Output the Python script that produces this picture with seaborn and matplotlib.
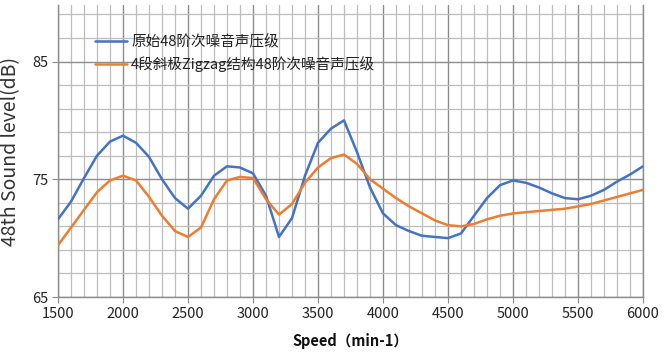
import numpy as np
import pandas as pd
import matplotlib
matplotlib.use("Agg")
import matplotlib.pyplot as plt
from matplotlib.ticker import MultipleLocator, FixedLocator
import seaborn as sns

# speed in min-1, 100 step
speed = list(range(1500, 6001, 100))

# original 48th order sound level
original = [71.6, 73.1, 75.1, 77.0, 78.2, 78.7, 78.1, 76.9, 75.0, 73.4,
            72.5, 73.6, 75.3, 76.1, 76.0, 75.5, 73.6, 70.1, 71.7, 75.3,
            78.1, 79.3, 80.0, 77.3, 74.3, 72.1, 71.1, 70.6, 70.2, 70.1,
            70.0, 70.4, 71.9, 73.4, 74.5, 74.9, 74.7, 74.3, 73.8, 73.4,
            73.3, 73.6, 74.1, 74.8, 75.4, 76.1]

# 4-segment skewed Zigzag structure
zigzag = [69.4, 70.9, 72.4, 73.9, 74.9, 75.3, 74.9, 73.5, 71.9, 70.6,
          70.1, 70.9, 73.3, 74.9, 75.2, 75.1, 73.3, 72.0, 72.9, 74.7,
          76.0, 76.8, 77.1, 76.3, 75.0, 74.2, 73.4, 72.7, 72.1, 71.5,
          71.1, 71.0, 71.2, 71.6, 71.9, 72.1, 72.2, 72.3, 72.4, 72.5,
          72.7, 72.9, 73.2, 73.5, 73.8, 74.1]

series_names = ["原始48阶次噪音声压级", "4段斜极Zigzag结构48阶次噪音声压级"]
series_colors = ["#4472C4", "#ED7D31"]

df = pd.DataFrame({
    "speed": speed * 2,
    "level": original + zigzag,
    "series": [series_names[0]] * len(speed) + [series_names[1]] * len(speed),
})

sns.set_theme(style="white")
plt.rcParams["font.family"] = ["Noto Sans CJK SC", "DejaVu Sans"]

fig = plt.figure(figsize=(6.64, 3.56), dpi=100)
ax = fig.add_axes([58 / 664, 59 / 356, 585 / 664, 292 / 356])

sns.lineplot(data=df, x="speed", y="level", hue="series",
             palette=dict(zip(series_names, series_colors)),
             linewidth=1.8, ax=ax, zorder=3)

ax.set_xlim(1500, 6000)
ax.set_ylim(65, 89.8)
ax.xaxis.set_major_locator(MultipleLocator(500))
ax.xaxis.set_minor_locator(MultipleLocator(100))
ax.yaxis.set_major_locator(FixedLocator([65, 75, 85]))
ax.yaxis.set_minor_locator(FixedLocator(np.arange(65, 90, 2)))

ax.grid(which="major", color="#8c8c8c", linewidth=1.0)
ax.grid(which="minor", color="#bdbdbd", linewidth=0.9)
ax.set_axisbelow(True)

ax.tick_params(which="major", direction="out", length=4, width=0.8,
               color="#8c8c8c", labelsize=10.5, labelcolor="#222222", pad=3,
               left=True, bottom=True)
ax.tick_params(which="minor", length=0)

ax.spines["top"].set_visible(False)
for side in ["left", "bottom", "right"]:
    ax.spines[side].set_color("#8c8c8c")
    ax.spines[side].set_linewidth(1.0)

ax.set_xlabel("Speed（min-1）", fontsize=10.5, fontweight="bold",
              color="#111111", labelpad=9)
ax.set_ylabel("48th Sound level(dB)", fontsize=14, color="#333333",
              labelpad=8)

leg = ax.legend(loc="upper left", bbox_to_anchor=(0.045, 0.934),
                frameon=False, fontsize=10.5, handlelength=2.2,
                handletextpad=0.3, labelspacing=0.5, borderaxespad=0.3)
for t in leg.get_texts():
    t.set_color("#222222")

fig.savefig("out.png", dpi=100)
